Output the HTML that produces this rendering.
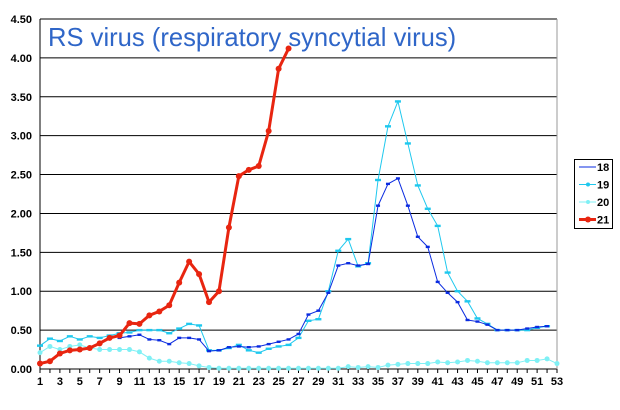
<!DOCTYPE html>
<html><head><meta charset="utf-8"><style>
body{margin:0;background:#fff;}
svg text{font-family:"Liberation Sans",sans-serif;}
</style></head><body>
<svg id="chart" width="620" height="405" xmlns="http://www.w3.org/2000/svg">
<text x="48" y="46" font-size="25.6" fill="#2f66c8">RS virus (respiratory syncytial virus)</text>
<g id="grid"></g><g id="series"></g>
<g>
<rect x="574.5" y="159.5" width="38" height="69" fill="#fff" stroke="#000"/>
</g>
</svg>
<script>
const weeks = Array.from({length:53},(_,i)=>i+1);
const yTicks = [0,0.5,1,1.5,2,2.5,3,3.5,4,4.5];
const xTickLabels = [1,3,5,7,9,11,13,15,17,19,21,23,25,27,29,31,33,35,37,39,41,43,45,47,49,51,53];
const s18 = [null,null,null,null,null,null,null,null,0.40,0.42,0.44,0.38,0.37,0.32,0.40,0.40,0.38,0.23,0.24,0.28,0.29,0.28,0.29,0.32,0.35,0.38,0.45,0.70,0.75,0.98,1.33,1.36,1.33,1.35,2.10,2.38,2.45,2.10,1.70,1.57,1.12,0.98,0.86,0.63,0.61,0.57,0.50,0.50,0.50,0.52,0.54,0.55,null];
const s19 = [0.30,0.39,0.36,0.42,0.38,0.42,0.40,0.43,0.46,0.47,0.50,0.50,0.50,0.46,0.52,0.58,0.56,0.24,0.24,0.27,0.31,0.24,0.21,0.26,0.29,0.31,0.40,0.62,0.64,1.00,1.52,1.67,1.32,1.36,2.43,3.12,3.44,2.90,2.36,2.06,1.84,1.24,1.00,0.87,0.65,0.58,0.50,0.50,0.50,0.50,0.53,0.55,null];
const s20 = [0.21,0.29,0.25,0.29,0.31,0.27,0.25,0.25,0.25,0.25,0.22,0.14,0.10,0.10,0.08,0.07,0.04,0.02,0.01,0.01,0.01,0.01,0.01,0.01,0.01,0.01,0.01,0.01,0.01,0.01,0.01,0.03,0.02,0.03,0.02,0.05,0.06,0.07,0.07,0.07,0.09,0.08,0.09,0.11,0.10,0.08,0.08,0.08,0.08,0.11,0.11,0.13,0.07];
const s21 = [0.07,0.10,0.20,0.24,0.25,0.27,0.33,0.40,0.43,0.59,0.58,0.69,0.74,0.82,1.11,1.38,1.22,0.86,1.00,1.82,2.48,2.56,2.61,3.06,3.86,4.12];
const NS="http://www.w3.org/2000/svg";
const X0=40,X1=557,Y0=369,Y1=19;
const xs=w=>X0+(w-1)*(X1-X0)/52;
const ys=v=>Y0-v*(Y0-Y1)/4.5;
function mk(t,a,p){const e=document.createElementNS(NS,t);for(const k in a)e.setAttribute(k,a[k]);p.appendChild(e);return e;}
const grid=document.getElementById('grid');
yTicks.forEach(v=>{
  const l=mk('line',{x1:X0,x2:X1,y1:ys(v),y2:ys(v),stroke:'#000','stroke-width':1},grid);
  
  
  const t=mk('text',{x:X0-8,y:ys(v)+4,'text-anchor':'end','font-size':11,'font-weight':'bold'},grid);
  t.textContent=v.toFixed(2);
  
  
});
mk('line',{x1:X0,x2:X0,y1:Y1,y2:Y0,stroke:'#000'},grid);
mk('line',{x1:X1,x2:X1,y1:Y1,y2:Y0,stroke:'#999'},grid);
weeks.forEach(w=>mk('line',{x1:xs(w),x2:xs(w),y1:Y0,y2:Y0+4,stroke:'#000'},grid));
xTickLabels.forEach(w=>{
  const t=mk('text',{x:xs(w),y:Y0+16,'text-anchor':'middle','font-size':11,'font-weight':'bold'},grid);
  t.textContent=w;
  
  
});
const sg=document.getElementById('series');
function draw(data,name,color,sw,mr,mshape){
  const g=mk('g',{},sg);
  
  
  let d='';data.forEach((v,i)=>{if(v==null)return;d+=(d?'L':'M')+xs(i+1)+' '+ys(v);});
  mk('path',{d,fill:'none',stroke:color,'stroke-width':sw},g);
  data.forEach((v,i)=>{if(v==null)return;
    if(mshape==='c')mk('circle',{cx:xs(i+1),cy:ys(v),r:mr,fill:color},g);
    else mk('rect',{x:xs(i+1)-mr,y:ys(v)-1.2,width:mr*2,height:2.4,fill:color},g);
  });
}
draw(s20,'series-20','#7ff0f5',1,2.5,'c');
draw(s19,'series-19','#1ec8ee',1,3,'r');
draw(s18,'series-18','#0a2be0',1,2,'r');
draw(s21,'series-21','#e82510',3,3,'c');
const svg=document.getElementById('chart');
const leg=[['18','#0a2be0',1],['19','#1ec8ee',1],['20','#7ff0f5',1],['21','#e82510',3]];
leg.forEach((e,i)=>{
  const y=167+i*17.5;
  const g=mk('g',{},svg);
  
  
  mk('line',{x1:579,x2:596,y1:y,y2:y,stroke:e[1],'stroke-width':e[2]},g);
  if(i>0)mk('circle',{cx:588,cy:y,r:i===3?3:2,fill:e[1]},g);
  const t=mk('text',{x:597,y:y+4,'font-size':11,'font-weight':'bold'},g);
  t.textContent=e[0];
});
</script>
</body></html>
